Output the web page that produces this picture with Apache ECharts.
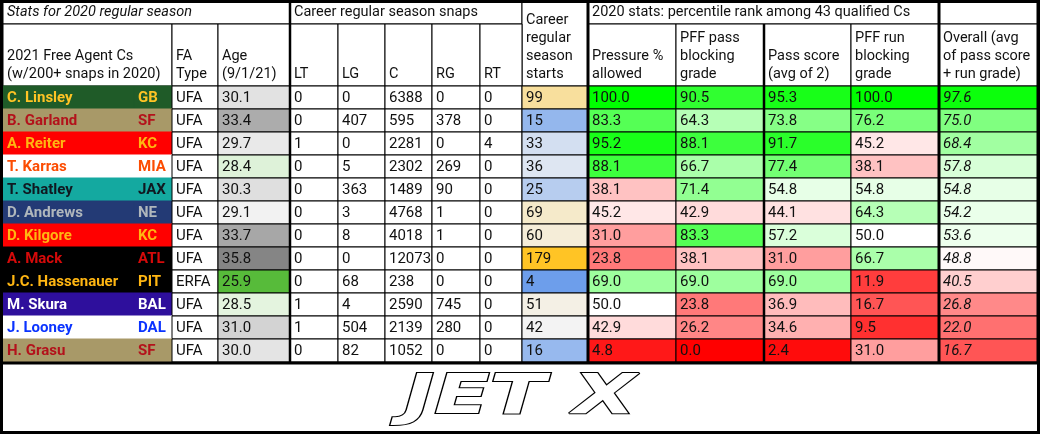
<!DOCTYPE html>
<html>
<head>
<meta charset="utf-8">
<script src="https://cdn.jsdelivr.net/npm/echarts@6/dist/echarts.min.js"></script>
<style>html,body{margin:0;padding:0;background:#fff}#chart{width:1040px;height:434px}</style>
</head>
<body>
<div id="chart"></div>
<script>
// ---- data ----
var players = ['C. Linsley', 'B. Garland', 'A. Reiter', 'T. Karras', 'T. Shatley', 'D. Andrews', 'D. Kilgore', 'A. Mack', 'J.C. Hassenauer', 'M. Skura', 'J. Looney', 'H. Grasu'];
var teams = ['GB', 'SF', 'KC', 'MIA', 'JAX', 'NE', 'KC', 'ATL', 'PIT', 'BAL', 'DAL', 'SF'];
var faType = ['UFA', 'UFA', 'UFA', 'UFA', 'UFA', 'UFA', 'UFA', 'UFA', 'ERFA', 'UFA', 'UFA', 'UFA'];
var ages = [30.1, 33.4, 29.7, 28.4, 30.3, 29.1, 33.7, 35.8, 25.9, 28.5, 31.0, 30.0];
var snapsLT = [0, 0, 1, 0, 0, 0, 0, 0, 0, 1, 1, 0];
var snapsLG = [0, 407, 0, 5, 363, 3, 8, 0, 68, 4, 504, 82];
var snapsC = [6388, 595, 2281, 2302, 1489, 4768, 4018, 12073, 238, 2590, 2139, 1052];
var snapsRG = [0, 378, 0, 269, 90, 1, 1, 0, 0, 745, 280, 0];
var snapsRT = [0, 0, 4, 0, 0, 0, 0, 0, 0, 0, 0, 0];
var starts = [99, 15, 33, 36, 25, 69, 60, 179, 4, 51, 42, 16];
var pressurePct = [100.0, 83.3, 95.2, 88.1, 38.1, 45.2, 31.0, 23.8, 69.0, 50.0, 42.9, 4.8];
var pffPass = [90.5, 64.3, 88.1, 66.7, 71.4, 42.9, 83.3, 38.1, 69.0, 23.8, 26.2, 0.0];
var passScore = [95.3, 73.8, 91.7, 77.4, 54.8, 44.1, 57.2, 31.0, 69.0, 36.9, 34.6, 2.4];
var pffRun = [100.0, 76.2, 45.2, 38.1, 54.8, 64.3, 50.0, 66.7, 11.9, 16.7, 9.5, 31.0];
var overall = [97.6, 75.0, 68.4, 57.8, 54.8, 54.2, 53.6, 48.8, 40.5, 26.8, 22.0, 16.7];

var teamStyle = {
  GB: ['#1f5b28', '#ffc425'], SF: ['#a89968', '#b3121b'], KC: ['#ff0000', '#ffb612'],
  MIA: ['#ffffff', '#fc4c02'], JAX: ['#14a9a0', '#101820'], NE: ['#233a75', '#b0b7bc'],
  ATL: ['#000000', '#d50a0a'], PIT: ['#000000', '#ffb612'], BAL: ['#2e0f9c', '#ffffff'],
  DAL: ['#ffffff', '#0a33ff']
};

// ---- layout ----
var colX = [3, 134, 172, 218, 290, 338, 385, 432, 480, 522, 588, 676, 764, 851, 939, 1037];
var rowTop = 86, rowH = 23, head1 = 24;

function mix(a, b, t) {
  t = Math.max(0, Math.min(1, t));
  var pa = [1, 3, 5].map(function (i) { return parseInt(a.substr(i, 2), 16); });
  var pb = [1, 3, 5].map(function (i) { return parseInt(b.substr(i, 2), 16); });
  return 'rgb(' + pa.map(function (v, i) { return Math.round(v + (pb[i] - v) * t); }).join(',') + ')';
}
function pctColor(v) { return v < 50 ? mix('#ff0000', '#ffffff', v / 50) : mix('#ffffff', '#00ff00', (v - 50) / 50); }
function ageColor(v) { return v < 29 ? mix('#57bb3a', '#ffffff', (v - 25.9) / 3.1) : mix('#f4f4f4', '#858585', (v - 29) / 6.8); }
function startColor(v) { return v < 42 ? mix('#6d9eeb', '#f3f3f3', (v - 4) / 38) : mix('#f3f3f3', '#ffc425', (v - 42) / 137); }

var cells = [];
function cell(c0, c1, y0, y1, text, o) {
  o = o || {};
  cells.push({ x0: colX[c0], x1: colX[c1], y0: y0, y1: y1, text: text, fill: o.fill || '#fff',
    color: o.color || '#111', weight: o.weight || 'normal', style: o.style || 'normal',
    valign: o.valign || 'middle', size: o.size || 15, stroke: o.stroke === undefined ? '#000' : o.stroke });
}
// headers
cell(0, 4, 0, head1, 'Stats for 2020 regular season', { style: 'italic', size: 14.5 });
cell(4, 9, 0, head1, 'Career regular season snaps', { size: 14.5 });
cell(9, 10, 0, rowTop, 'Career\nregular\nseason\nstarts', { valign: 'bottom', size: 14.5 });
cell(10, 14, 0, head1, '2020 stats: percentile rank among 43 qualified Cs', { size: 14.5 });
cell(14, 15, 0, head1, '');
var h2 = ['2021 Free Agent Cs\n(w/200+ snaps in 2020)', null, 'FA\nType', 'Age\n(9/1/21)', 'LT', 'LG', 'C', 'RG', 'RT', null,
  'Pressure %\nallowed', 'PFF pass\nblocking\ngrade', 'Pass score\n(avg of 2)', 'PFF run\nblocking\ngrade', 'Overall (avg\nof pass score\n+ run grade)'];
h2.forEach(function (t, i) {
  if (t === null) return;
  cell(i, i === 0 ? 2 : i + 1, head1, rowTop, t, { valign: 'bottom', size: 14.5 });
});
// rows
players.forEach(function (p, r) {
  var y0 = rowTop + r * rowH, y1 = y0 + rowH, ts = teamStyle[teams[r]];
  cell(0, 1, y0, y1, p, { fill: ts[0], color: ts[1], weight: 'bold', stroke: null });
  cell(1, 2, y0, y1, teams[r], { fill: ts[0], color: ts[1], weight: 'bold', stroke: null });
  cell(2, 3, y0, y1, faType[r]);
  cell(3, 4, y0, y1, ages[r].toFixed(1), { fill: ageColor(ages[r]) });
  [snapsLT, snapsLG, snapsC, snapsRG, snapsRT].forEach(function (arr, k) { cell(4 + k, 5 + k, y0, y1, String(arr[r])); });
  cell(9, 10, y0, y1, String(starts[r]), { fill: startColor(starts[r]) });
  [pressurePct, pffPass, passScore, pffRun, overall].forEach(function (arr, k) {
    cell(10 + k, 11 + k, y0, y1, arr[r].toFixed(1), { fill: pctColor(arr[r]), style: k === 4 ? 'italic' : 'normal' });
  });
});
var tableBottom = rowTop + players.length * rowH;

// thick rules
var rules = [
  [colX[4], 0, colX[4], tableBottom, 2.5], [colX[10], 0, colX[10], tableBottom, 3],
  [colX[12], head1, colX[12], tableBottom, 2.5], [colX[14], 0, colX[14], tableBottom, 3],
  [0, tableBottom + 1, 1040, tableBottom + 1, 3],
  [1.5, 0, 1.5, 434, 3], [1038.5, 0, 1038.5, 434, 3], [0, 1.5, 1040, 1.5, 3], [0, 432.5, 1040, 432.5, 3]
];

var chart = echarts.init(document.getElementById('chart'));
chart.setOption({
  animation: false,
  grid: { left: 0, right: 0, top: 0, bottom: 0 },
  xAxis: { type: 'value', min: 0, max: 1040, show: false },
  yAxis: { type: 'value', min: 0, max: 434, inverse: true, show: false },
  series: [{
    type: 'custom',
    data: cells.map(function (c) { return [c.x0, c.y0, c.x1, c.y1]; }),
    renderItem: function (params, api) {
      var c = cells[params.dataIndex];
      var p0 = api.coord([api.value(0), api.value(1)]), p1 = api.coord([api.value(2), api.value(3)]);
      var ty = c.valign === 'bottom' ? p1[1] - 3 : (p0[1] + p1[1]) / 2 + 0.5;
      return {
        type: 'group',
        children: [
          { type: 'rect', shape: { x: p0[0], y: p0[1], width: p1[0] - p0[0], height: p1[1] - p0[1] },
            style: { fill: c.fill, stroke: c.stroke || c.fill, lineWidth: 1 } },
          { type: 'text', x: p0[0] + 4, y: ty,
            style: { text: c.text, fill: c.color, font: c.style + ' ' + c.weight + ' ' + c.size + 'px Roboto',
              verticalAlign: c.valign, lineHeight: 18 } }
        ]
      };
    }
  }, {
    type: 'custom',
    data: rules,
    renderItem: function (params, api) {
      var a = api.coord([api.value(0), api.value(1)]), b = api.coord([api.value(2), api.value(3)]);
      return { type: 'line', shape: { x1: a[0], y1: a[1], x2: b[0], y2: b[1] }, style: { stroke: '#000', lineWidth: api.value(4) } };
    }
  }],
  graphic: [{
    type: 'text', x: 520, y: 398, scaleX: 1.45,
    style: { text: 'JET X', font: 'italic 900 56px "DejaVu Sans"', fill: '#fff', stroke: '#000', lineWidth: 2,
      align: 'center', verticalAlign: 'middle' }
  }]
});
</script>
</body>
</html>
